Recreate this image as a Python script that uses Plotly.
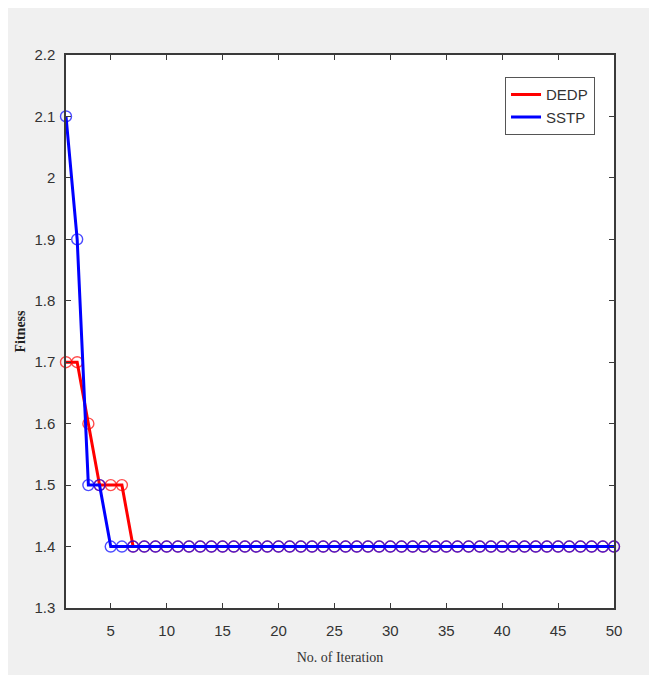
import plotly.graph_objects as go

iterations = list(range(1, 51))
dedp = [1.7, 1.7, 1.6, 1.5, 1.5, 1.5] + [1.4] * 44
sstp = [2.1, 1.9, 1.5, 1.5, 1.4, 1.4] + [1.4] * 44
x_ticks = [5, 10, 15, 20, 25, 30, 35, 40, 45, 50]
y_ticks = [1.3, 1.4, 1.5, 1.6, 1.7, 1.8, 1.9, 2.0, 2.1, 2.2]
y_tick_labels = ["1.3", "1.4", "1.5", "1.6", "1.7", "1.8", "1.9", "2", "2.1", "2.2"]

series = [("DEDP", dedp, "#ff0000"), ("SSTP", sstp, "#0000ff")]

fig = go.Figure()
for name, vals, col in series:
    fig.add_trace(go.Scatter(
        x=iterations, y=vals, mode="lines", name=name,
        line=dict(color=col, width=3), cliponaxis=False, showlegend=True))
    fig.add_trace(go.Scatter(
        x=iterations, y=vals, mode="markers", name=name, showlegend=False,
        marker=dict(symbol="circle-open", size=11, color=col, opacity=0.7,
                    line=dict(width=1.4, color=col)),
        cliponaxis=False))

axis_common = dict(
    showgrid=False, zeroline=False, showline=True, linecolor="#3a3a3a", linewidth=1.5,
    mirror="ticks", ticks="inside", ticklen=5, tickcolor="#3a3a3a",
    tickfont=dict(family="Liberation Sans, Arial", size=15, color="#333333"),
)

fig.update_layout(
    width=649, height=667,
    margin=dict(l=55, r=43, t=47, b=66),
    paper_bgcolor="#f0f0f0", plot_bgcolor="white",
    xaxis=dict(range=[1, 50], tickvals=x_ticks, ticklabelstandoff=8, **axis_common,
               title=dict(text="No. of Iteration", standoff=14,
                          font=dict(family="Liberation Serif, Times New Roman", size=14, color="#333333"))),
    yaxis=dict(range=[1.3, 2.2], tickvals=y_ticks, ticktext=y_tick_labels, ticklabelstandoff=6,
               **axis_common,
               title=dict(text="<b>Fitness</b>", standoff=5,
                          font=dict(family="Liberation Serif, Times New Roman", size=14, color="#222222"))),
    legend=dict(x=0.965, y=0.96, xanchor="right", yanchor="top",
                bgcolor="white", bordercolor="#555555", borderwidth=1.2,
                font=dict(family="Liberation Sans, Arial", size=15, color="#333333"),
                tracegroupgap=0, itemwidth=30),
)

fig.write_html("out.html")
